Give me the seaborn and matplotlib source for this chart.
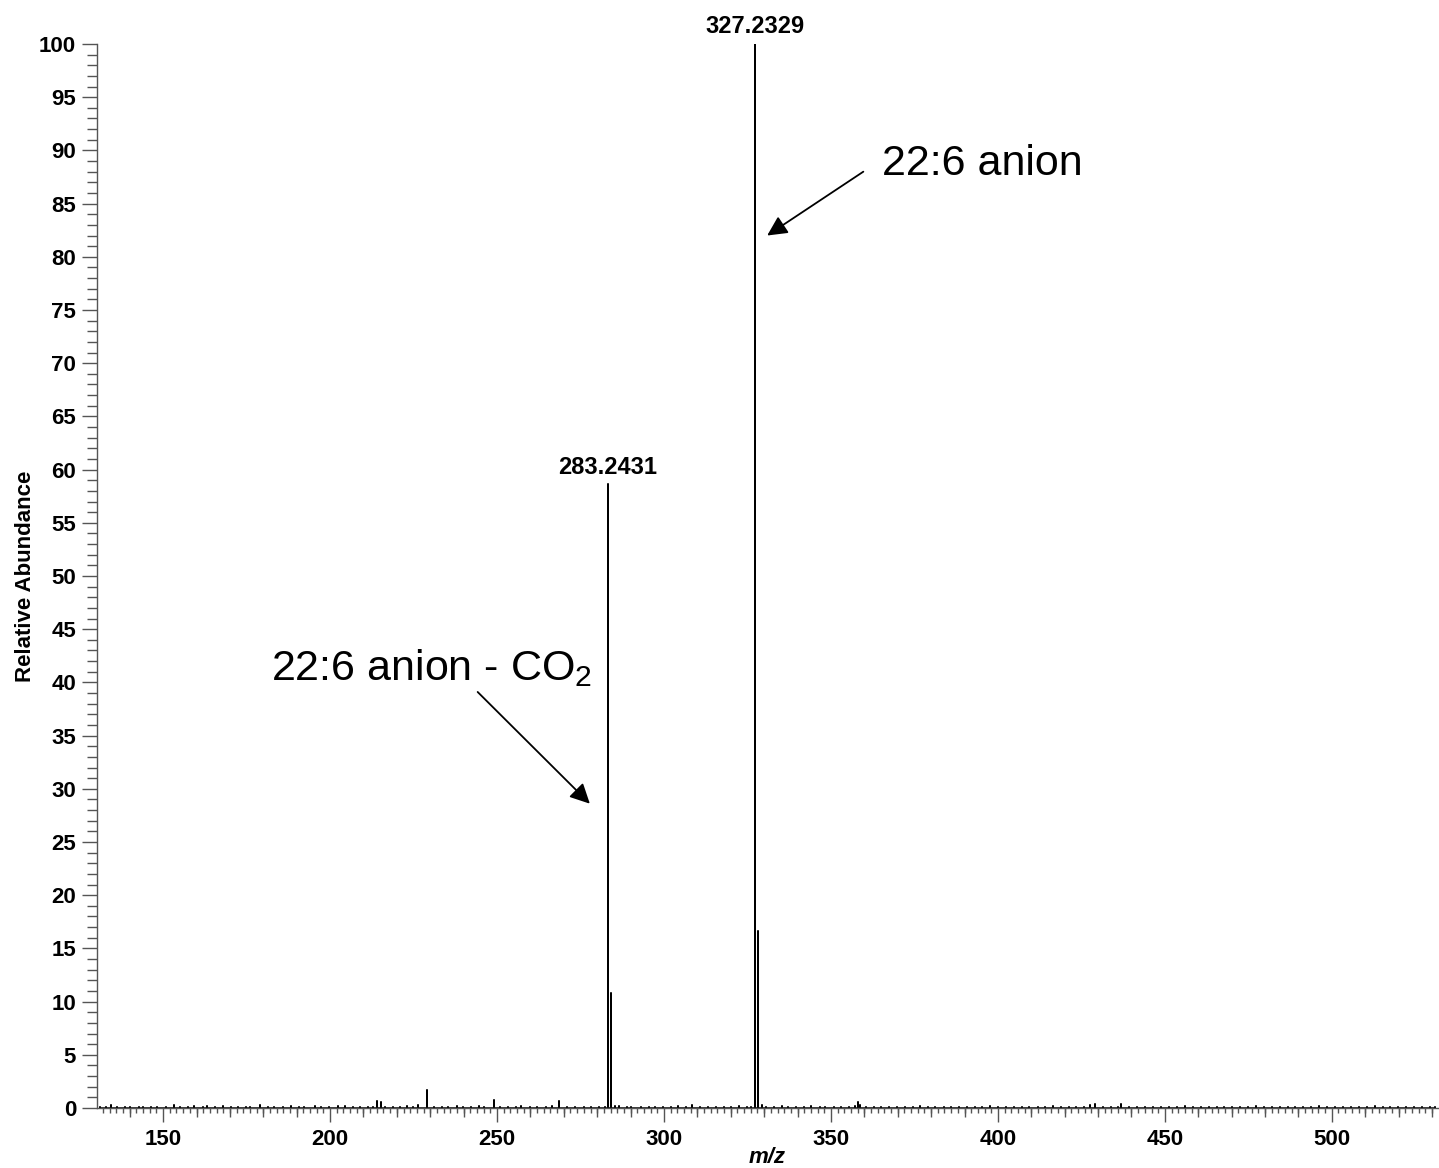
import numpy as np
import pandas as pd
import matplotlib
matplotlib.use("Agg")
import matplotlib.pyplot as plt
from matplotlib.ticker import MultipleLocator, FixedLocator, NullFormatter
import seaborn as sns

# ---------------- data ----------------
main_mz = [283.2431, 284.2465, 327.2329, 328.2363]
main_ab = [58.6, 10.8, 100.0, 16.6]

minor_mz = [214.1, 215.2, 229.0, 249.2, 268.7, 285.3, 329.3, 358.0, 358.7]
minor_ab = [0.7, 0.6, 1.65, 0.75, 0.63, 0.2, 0.3, 0.6, 0.3]

noise_mz = [131.1, 133.0, 134.3, 136.2, 138.5, 140.1, 142.7, 144.0, 146.3, 148.2,
            150.9, 153.4, 155.0, 157.6, 159.2, 161.8, 163.1, 165.5, 167.9, 170.2,
            172.4, 174.8, 176.1, 179.0, 181.5, 183.3, 185.9, 188.2, 190.6, 192.1,
            195.5, 197.3, 199.8, 202.4, 204.5, 206.9, 209.1, 211.3, 213.0, 216.4,
            218.7, 220.8, 223.0, 224.9, 226.2, 231.1, 233.6, 235.4, 237.9, 239.8,
            242.2, 244.6, 246.1, 251.0, 253.3, 255.7, 257.2, 259.9, 262.1, 264.8,
            266.5, 271.0, 273.4, 275.9, 278.1, 280.6, 282.2, 286.4, 288.8, 290.1,
            293.0, 295.5, 297.2, 299.7, 302.0, 304.3, 306.5, 308.3, 310.9, 313.1,
            315.6, 317.9, 320.2, 322.4, 324.8, 326.1, 330.6, 332.9, 335.2, 337.0,
            339.5, 341.8, 344.1, 346.6, 348.3, 350.9, 353.0, 355.4, 357.1, 360.5,
            362.8, 365.0, 367.3, 369.9, 372.2, 374.5, 376.7, 379.0, 381.3, 383.8,
            386.0, 388.4, 390.7, 393.1, 395.3, 397.6, 400.0, 402.5, 404.7, 407.1,
            409.4, 411.9, 414.2, 416.6, 418.9, 421.3, 423.5, 425.8, 427.5, 429.0,
            431.5, 433.9, 436.0, 437.0, 439.4, 441.8, 444.2, 446.5, 448.9, 451.3,
            453.6, 456.0, 458.4, 460.7, 463.1, 465.5, 467.8, 470.2, 472.6, 474.9,
            477.3, 479.7, 482.0, 484.4, 486.8, 489.1, 491.5, 493.9, 496.2, 498.6,
            501.0, 503.3, 505.7, 508.1, 510.4, 512.8, 515.2, 517.5, 519.9, 522.3,
            524.6, 527.0, 529.4, 531.0]
noise_ab = [0.12, 0.10, 0.25, 0.11, 0.09, 0.13, 0.10, 0.12, 0.08, 0.11,
            0.10, 0.32, 0.14, 0.12, 0.18, 0.10, 0.15, 0.12, 0.20, 0.11,
            0.09, 0.13, 0.10, 0.30, 0.12, 0.14, 0.10, 0.16, 0.11, 0.13,
            0.20, 0.12, 0.10, 0.15, 0.22, 0.13, 0.11, 0.14, 0.12, 0.10,
            0.13, 0.11, 0.15, 0.12, 0.25, 0.12, 0.14, 0.10, 0.18, 0.12,
            0.11, 0.15, 0.13, 0.12, 0.14, 0.10, 0.16, 0.12, 0.11, 0.13,
            0.15, 0.12, 0.10, 0.14, 0.11, 0.13, 0.12, 0.15, 0.11, 0.10,
            0.13, 0.12, 0.14, 0.10, 0.12, 0.15, 0.11, 0.25, 0.13, 0.10,
            0.14, 0.12, 0.11, 0.15, 0.12, 0.14, 0.13, 0.10, 0.15, 0.12,
            0.11, 0.13, 0.16, 0.12, 0.10, 0.14, 0.11, 0.13, 0.15, 0.12,
            0.10, 0.14, 0.11, 0.13, 0.12, 0.10, 0.15, 0.11, 0.13, 0.12,
            0.10, 0.14, 0.12, 0.11, 0.13, 0.15, 0.12, 0.10, 0.14, 0.11,
            0.13, 0.12, 0.10, 0.15, 0.12, 0.14, 0.11, 0.13, 0.30, 0.35,
            0.12, 0.14, 0.11, 0.35, 0.12, 0.10, 0.14, 0.11, 0.13, 0.12,
            0.10, 0.15, 0.12, 0.11, 0.13, 0.10, 0.14, 0.12, 0.11, 0.13,
            0.15, 0.12, 0.10, 0.14, 0.11, 0.13, 0.12, 0.10, 0.15, 0.12,
            0.11, 0.13, 0.14, 0.10, 0.12, 0.15, 0.11, 0.13, 0.12, 0.10,
            0.14, 0.12, 0.11, 0.13]

peak_labels = ["283.2431", "327.2329"]
peak_label_mz = [283.2431, 327.2329]
peak_label_ab = [58.6, 100.0]

# ---------------- build stick table ----------------
all_mz = main_mz + minor_mz + noise_mz
all_ab = main_ab + minor_ab + noise_ab
order = np.argsort(all_mz)
xs, ys = [], []
for i in order:
    xs += [all_mz[i], all_mz[i], all_mz[i]]
    ys += [0.0, all_ab[i], 0.0]
df = pd.DataFrame({"mz": xs, "ab": ys})

# ---------------- style ----------------
sns.set_style("white")
plt.rcParams["font.family"] = ["Liberation Sans", "DejaVu Sans"]
plt.rcParams["mathtext.default"] = "regular"
plt.rcParams["text.color"] = "black"
plt.rcParams["axes.labelcolor"] = "black"
plt.rcParams["xtick.labelcolor"] = "black"
plt.rcParams["ytick.labelcolor"] = "black"

fig = plt.figure(figsize=(14.39, 11.68), dpi=100)
ax = fig.add_axes([97 / 1439, 1 - 1108 / 1168, (1438 - 97) / 1439, (1108 - 44) / 1168])

sns.lineplot(data=df, x="mz", y="ab", sort=False, estimator=None,
             color="black", linewidth=1.1, ax=ax)

ax.set_xlim(130.2, 531.8)
ax.set_ylim(0, 100)

tick_col = "#555555"
for s in ["top", "right"]:
    ax.spines[s].set_visible(False)
for s in ["left", "bottom"]:
    ax.spines[s].set_color(tick_col)
    ax.spines[s].set_linewidth(1.0)

ax.xaxis.set_major_locator(MultipleLocator(50))
ax.xaxis.set_minor_locator(MultipleLocator(2))
ax.yaxis.set_major_locator(MultipleLocator(5))
ax.yaxis.set_minor_locator(MultipleLocator(1))

ax.tick_params(axis="x", which="major", length=10, width=1.0, color=tick_col,
               labelsize=16, pad=5, direction="out", bottom=True, labelcolor="black")
ax.tick_params(axis="x", which="minor", length=3.6, width=1.0, color=tick_col,
               direction="out", bottom=True)
ax.tick_params(axis="y", which="major", length=11, width=1.0, color=tick_col,
               labelsize=16, pad=4, direction="out", left=True, labelcolor="black")
ax.tick_params(axis="y", which="minor", length=7, width=1.0, color=tick_col,
               direction="out", left=True)
for lab in ax.get_xticklabels() + ax.get_yticklabels():
    lab.set_fontweight("bold")

# medium ticks every 10
sec = ax.secondary_xaxis("bottom")
sec.xaxis.set_major_locator(FixedLocator([t for t in range(140, 540, 10) if t % 50 != 0]))
sec.xaxis.set_major_formatter(NullFormatter())
sec.tick_params(axis="x", which="major", length=6.5, width=1.0, color=tick_col,
                direction="out", bottom=True, labelbottom=False)
sec.spines["bottom"].set_visible(False)

ax.set_xlabel("m/z", fontsize=16, fontweight="bold", fontstyle="italic", labelpad=-2)
ax.set_ylabel("Relative Abundance", fontsize=16, fontweight="bold", labelpad=2)

for lab, x, y in zip(peak_labels, peak_label_mz, peak_label_ab):
    ax.annotate(lab, xy=(x, y), xytext=(0, 4), textcoords="offset points",
                ha="center", va="bottom", fontsize=17, fontweight="bold",
                annotation_clip=False)

arrow = dict(arrowstyle="-|>", color="black", lw=1.3, mutation_scale=30,
             shrinkA=0, shrinkB=0)
ax.annotate("", xy=(330.9, 82.0), xytext=(359.7, 88.0), arrowprops=arrow)
ax.text(365.4, 87.7, "22:6 anion", fontsize=31, ha="left", va="baseline")
ax.annotate("", xy=(277.8, 28.6), xytext=(244.2, 39.1), arrowprops=arrow)
ax.text(182.4, 40.2, "22:6 anion - CO$_2$", fontsize=31, ha="left", va="baseline")

fig.savefig("out.png", dpi=100)
